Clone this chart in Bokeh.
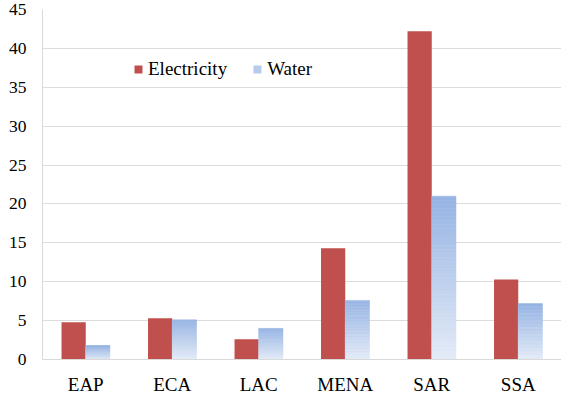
from bokeh.plotting import figure
from bokeh.models import FactorRange, Range1d, ColumnDataSource, Legend, LegendItem, FixedTicker
from bokeh.transform import dodge
from bokeh.embed import file_html
from bokeh.resources import INLINE

regions = ["EAP", "ECA", "LAC", "MENA", "SAR", "SSA"]
electricity = [4.8, 5.3, 2.6, 14.3, 42.2, 10.3]
water = [1.8, 5.1, 4.0, 7.6, 21.0, 7.2]
y_ticks = [0, 5, 10, 15, 20, 25, 30, 35, 40, 45]

ELEC = "#C0504D"
W_TOP = (149, 179, 227)
W_BOT = (228, 235, 247)
FONT = "'Liberation Serif', 'Times New Roman', serif"

p = figure(x_range=FactorRange(*regions, range_padding=0), y_range=Range1d(0, 45),
           width=561, height=402, output_backend="svg", toolbar_location=None,
           min_border_left=42, min_border_right=0, min_border_top=9, min_border_bottom=43)
p.outline_line_color = None
p.background_fill_color = "white"

BW = 0.28
src = ColumnDataSource(dict(cat=regions, elec=electricity, water=water))
elec_r = p.vbar(x=dodge("cat", -BW / 2, range=p.x_range), top="elec", width=BW,
                source=src, fill_color=ELEC, line_color=None)

# gradient water bars: slices from bottom (light) to top (darker)
N = 40
cats, bots, tops, cols = [], [], [], []
for c, v in zip(regions, water):
    for k in range(N):
        f = (k + 0.5) / N
        rgb = tuple(int(round(W_BOT[i] + (W_TOP[i] - W_BOT[i]) * f)) for i in range(3))
        cats.append(c)
        bots.append(v * k / N)
        tops.append(v * (k + 1) / N)
        cols.append("#%02x%02x%02x" % rgb)
gsrc = ColumnDataSource(dict(cat=cats, bottom=bots, top=tops, color=cols))
p.vbar(x=dodge("cat", BW / 2, range=p.x_range), bottom="bottom", top="top", width=BW,
       source=gsrc, fill_color="color", line_color="color", line_width=0.5)
water_leg = p.vbar(x=dodge("cat", BW / 2, range=p.x_range), top="water", width=BW,
                   source=src, fill_color="#B7CBEC", line_color=None, visible=False)

# axes
p.yaxis.ticker = FixedTicker(ticks=y_ticks)
p.yaxis.major_tick_line_color = None
p.yaxis.major_tick_out = 0
p.yaxis.major_tick_in = 0
p.yaxis.minor_tick_line_color = None
p.yaxis.axis_line_color = "#D9D9D9"
p.yaxis.major_label_text_font = FONT
p.yaxis.major_label_text_font_size = "17.5px"
p.yaxis.major_label_text_color = "black"
p.yaxis.major_label_standoff = 16

p.xaxis.major_tick_line_color = None
p.xaxis.major_tick_out = 0
p.xaxis.major_tick_in = 0
p.xaxis.axis_line_color = "#D9D9D9"
p.xaxis.major_label_text_font = FONT
p.xaxis.major_label_text_font_size = "19px"
p.xaxis.major_label_text_color = "black"
p.xaxis.major_label_standoff = 14

p.xgrid.grid_line_color = None
p.ygrid.grid_line_color = "#DCDCDC"
p.ygrid.grid_line_width = 1

legend = Legend(items=[LegendItem(label="Electricity", renderers=[elec_r]),
                       LegendItem(label="Water", renderers=[water_leg])],
                orientation="horizontal", location=(91, 279),
                glyph_width=10, glyph_height=10, label_standoff=5, spacing=25,
                padding=0, margin=0, border_line_color=None, background_fill_alpha=0,
                label_text_font=FONT, label_text_font_size="19px", label_text_color="black")
p.add_layout(legend, "center")

open("out.html", "w").write(file_html(p, INLINE))
